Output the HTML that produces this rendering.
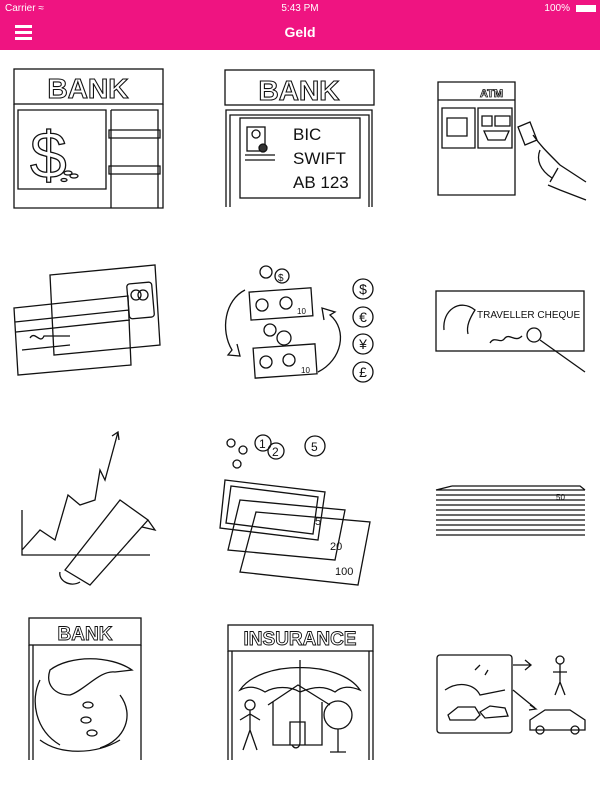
<!DOCTYPE html>
<html><head><meta charset="utf-8"><style>
html,body{margin:0;padding:0;width:600px;height:800px;background:#fff;overflow:hidden;font-family:"Liberation Sans",sans-serif}
.hdr{position:absolute;left:0;top:0;width:600px;height:50px;background:#ef1481;color:#fff}
.st{position:absolute;top:3px;font-size:10px}
.ttl{position:absolute;top:24px;width:600px;text-align:center;font-size:14px;font-weight:bold}
.hb{position:absolute;left:15px;width:17px;height:3px;background:#fff}
svg{position:absolute;left:0;top:0}
</style></head><body>
<div class="hdr">
<div class="st" style="left:5px">Carrier ≈</div>
<div class="st" style="left:0;width:600px;text-align:center">5:43 PM</div>
<div class="st" style="right:30px">100%</div>
<div style="position:absolute;right:4px;top:5px;width:20px;height:7px;background:#fff"></div>
<div class="ttl">Geld</div>
<div class="hb" style="top:25px"></div><div class="hb" style="top:31px"></div><div class="hb" style="top:37px"></div>
</div>
<svg width="600" height="800" viewBox="0 0 600 800" fill="none" stroke="#111" stroke-width="1.3" font-family="Liberation Sans, sans-serif">
<!-- Bank 1 -->
<rect x="14" y="69" width="149" height="35"/>
<text x="88" y="98" font-size="28" font-weight="bold" text-anchor="middle" fill="#fff" stroke="#111" stroke-width="1.1">BANK</text>
<path d="M14 104V208H163V104M18 110H106V189H18Z M111 110H158V208M111 110V208M109 130H160V138H109Z M109 166H160V174H109Z"/>
<text x="30" y="178" font-size="66" fill="#fff" stroke="#111">$</text>
<ellipse cx="68" cy="173" rx="4" ry="2"/><ellipse cx="74" cy="176" rx="4" ry="2"/><ellipse cx="64" cy="180" rx="3" ry="1.5"/>
<!-- Bank 2 -->
<rect x="225" y="70" width="149" height="35"/>
<text x="299" y="100" font-size="28" font-weight="bold" text-anchor="middle" fill="#fff" stroke="#111" stroke-width="1.1">BANK</text>
<path d="M226 207V110H372V207M230 207V115H369V207"/>
<rect x="240" y="118" width="120" height="80"/>
<rect x="247" y="127" width="18" height="24"/><circle cx="256" cy="134" r="4"/><circle cx="263" cy="148" r="4" fill="#333"/>
<path d="M245 155H275M245 160H275"/>
<g fill="#111" stroke="none" font-size="17"><text x="293" y="140">BIC</text><text x="293" y="164">SWIFT</text><text x="293" y="188">AB 123</text></g>
<!-- ATM -->
<path d="M438 82H515V195H438Z M438 100H515 M442 108H475V148H442Z M447 118H467V136H447Z M478 108H512V148H478Z"/>
<text x="480" y="97" font-size="11" font-weight="bold" fill="#fff" stroke="#111" stroke-width=".8">ATM</text>
<path d="M482 116H492V126H482Z M495 116H510V126H495Z M484 131H509L505 140H488Z"/>
<path d="M518 127L530 122L537 140L525 145Z M533 135C540 145 545 150 560 165L586 182 M540 150C536 160 540 170 552 178M558 168L550 182M586 200L560 190L548 185"/>
<!-- Card -->
<path d="M50 275L155 265L160 345L54 355Z"/>
<rect x="128" y="283" width="25" height="35" rx="3" transform="rotate(-5 140 300)"/>
<circle cx="136" cy="295" r="5"/><circle cx="143" cy="295" r="5"/>
<path d="M14 308L128 296L131 365L18 375Z M15 322L129 310 M16 332L130 320 M22 350L70 345"/>
<path d="M30 338C35 330 40 345 44 336L70 336"/>
<!-- Exchange -->
<circle cx="266" cy="272" r="6"/><circle cx="282" cy="276" r="7"/><text x="278" y="281" font-size="10" fill="#111" stroke="none">$</text>
<rect x="250" y="290" width="62" height="28" transform="rotate(-4 280 304)"/>
<circle cx="262" cy="305" r="6"/><circle cx="286" cy="303" r="6"/><text x="297" y="314" font-size="8" fill="#111" stroke="none">10</text>
<circle cx="270" cy="330" r="6"/><circle cx="284" cy="338" r="7"/>
<rect x="254" y="346" width="62" height="30" transform="rotate(-4 285 360)"/>
<circle cx="266" cy="362" r="6"/><circle cx="289" cy="360" r="6"/><text x="301" y="373" font-size="8" fill="#111" stroke="none">10</text>
<path d="M245 290C225 300 220 330 232 350L228 355L240 356L237 344" /><path d="M318 372C342 360 348 330 330 315L335 312L322 308L324 320"/>
<g font-size="14" fill="#111" stroke="none" text-anchor="middle"><text x="363" y="294">$</text><text x="363" y="322">€</text><text x="363" y="349">¥</text><text x="363" y="377">£</text></g>
<circle cx="363" cy="289" r="10"/><circle cx="363" cy="317" r="10"/><circle cx="363" cy="344" r="10"/><circle cx="363" cy="372" r="10"/>
<!-- Traveller cheque -->
<rect x="436" y="291" width="148" height="60"/>
<path d="M444 330C442 310 460 298 475 310C470 318 466 326 468 334"/>
<text x="477" y="318" font-size="10" fill="#111" stroke="none">TRAVELLER CHEQUE</text>
<path d="M490 343C495 335 500 345 505 338C510 333 515 343 522 336"/><circle cx="534" cy="335" r="7"/><path d="M540 340L585 372"/>
<!-- Chart -->
<path d="M22 510V555H150 M22 550L40 530L55 540L68 495L80 505L95 500L100 470L105 480L118 432 M112 436L118 432L119 440"/>
<path d="M65 570L120 500L148 520L90 585Z M148 520L155 530L142 527 M60 572C58 580 70 588 80 582"/>
<!-- Coins/bills -->
<circle cx="231" cy="443" r="4"/><circle cx="243" cy="450" r="4"/><circle cx="237" cy="464" r="4"/>
<circle cx="263" cy="443" r="8"/><circle cx="276" cy="451" r="8"/><circle cx="315" cy="446" r="10"/>
<g font-size="12" fill="#111" stroke="none"><text x="259" y="448">1</text><text x="272" y="456">2</text><text x="311" y="451">5</text></g>
<path d="M256 512L370 522L358 585L240 572Z M240 500L345 510L335 560L228 550Z M225 480L325 492L318 540L220 528Z M231 486L318 497L313 534L226 523Z"/>
<g font-size="11" fill="#111" stroke="none"><text x="315" y="525">5</text><text x="330" y="550">20</text><text x="335" y="575">100</text></g>
<!-- Stack -->
<path d="M436 490H585 M436 495H585 M436 500H585 M436 505H585 M436 510H585 M436 515H585 M436 520H585 M436 525H585 M436 530H585 M452 486H580L585 490 M436 490L452 486 M436 535H585"/>
<text x="556" y="500" font-size="8" fill="#111" stroke="none">50</text>
<!-- Bank hand -->
<rect x="29" y="618" width="112" height="27"/>
<text x="85" y="640" font-size="19" font-weight="bold" text-anchor="middle" fill="#fff" stroke="#111" stroke-width=".9">BANK</text>
<path d="M29 645V760M141 645V760M33 645V760"/>
<path d="M50 670C70 655 110 655 132 670L115 672C100 670 85 690 70 695C55 695 45 685 50 670Z"/>
<path d="M40 680C30 700 35 730 60 745M120 695C135 715 125 740 100 748M40 740C60 755 95 755 120 740"/>
<ellipse cx="88" cy="705" rx="5" ry="3"/><ellipse cx="86" cy="720" rx="5" ry="3"/><ellipse cx="92" cy="733" rx="5" ry="3"/>
<!-- Insurance -->
<rect x="228" y="625" width="145" height="26"/>
<text x="300" y="645" font-size="19" font-weight="bold" text-anchor="middle" fill="#fff" stroke="#111" stroke-width=".9">INSURANCE</text>
<path d="M228 651V760M373 651V760M232 651V760M369 651V760"/>
<path d="M240 690C260 660 340 660 360 690C350 686 342 686 335 692C325 686 315 686 300 692C290 686 275 686 265 692C255 686 248 686 240 690Z M300 660V742C300 748 295 750 292 745"/>
<path d="M268 705L298 685L330 705 M273 702V745H322V702 M290 745V722H305V745"/>
<circle cx="250" cy="705" r="5"/><path d="M250 710V730M240 720L250 714L260 720M250 730L243 750M250 730L257 750"/>
<circle cx="338" cy="715" r="14"/><path d="M338 729V752M330 752H346"/>
<!-- Accident -->
<rect x="437" y="655" width="75" height="78" rx="3"/>
<path d="M445 690C460 680 475 685 480 695L505 690 M475 670L480 665M485 675L488 670"/>
<path d="M448 715L458 707L475 707L480 715L475 720H450Z M480 712L490 706L505 708L508 716L485 718Z"/>
<path d="M513 665H530M525 660L531 665L525 670 M513 690L535 708M530 705L536 709L529 710"/>
<circle cx="560" cy="660" r="4"/><path d="M560 664V682M553 672L567 672M560 682L555 695M560 682L565 695"/>
<path d="M530 720L545 710H570L585 720V730H530Z"/><circle cx="540" cy="730" r="4"/><circle cx="575" cy="730" r="4"/>
</svg>
</body></html>
